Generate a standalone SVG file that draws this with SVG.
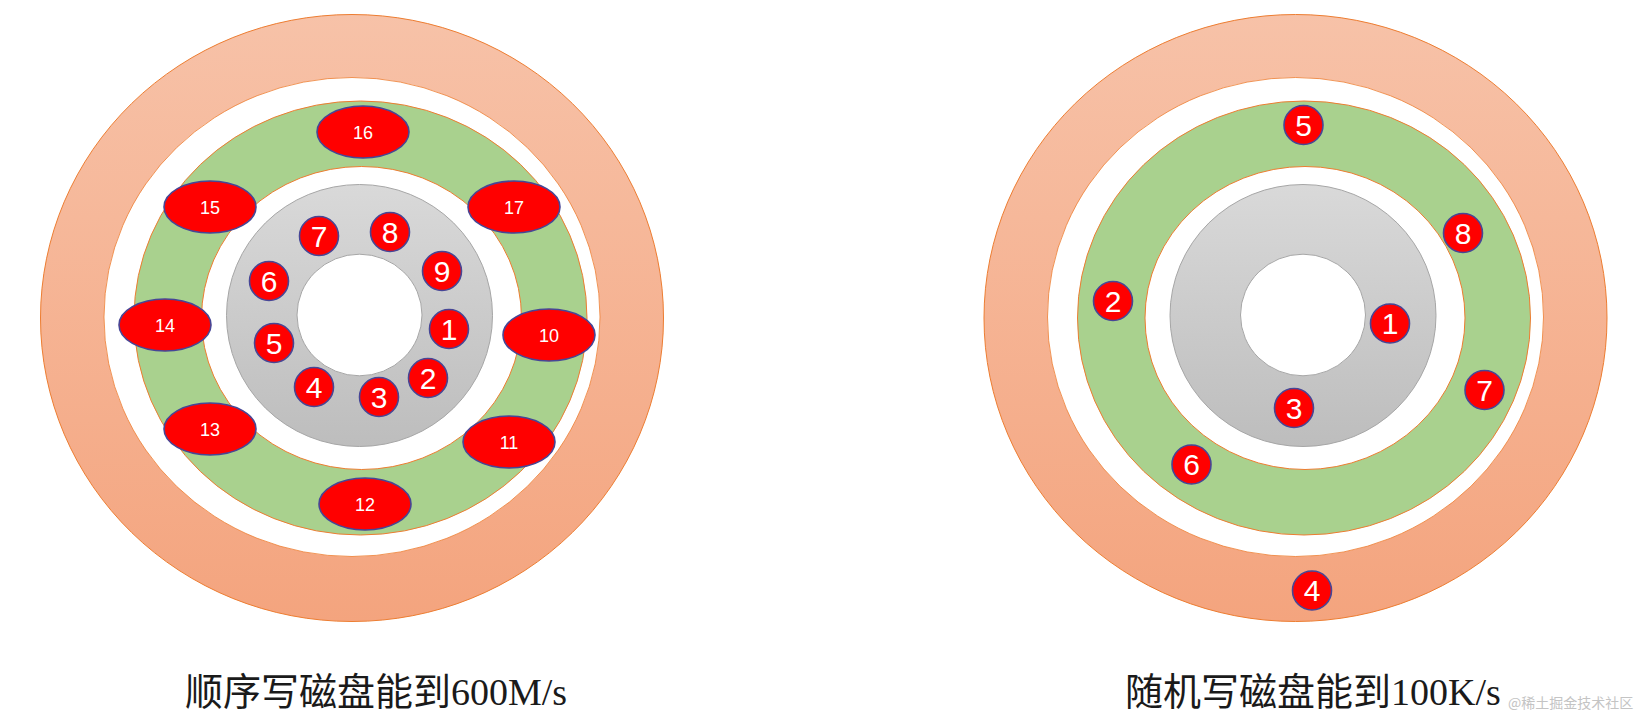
<svg xmlns="http://www.w3.org/2000/svg" xmlns:xlink="http://www.w3.org/1999/xlink" width="1634" height="718" viewBox="0 0 1634 718">
  <defs>
    <linearGradient id="gOrange" x1="0" y1="0" x2="0" y2="1">
      <stop offset="0" stop-color="#f7c2a8"/>
      <stop offset="1" stop-color="#f4a47e"/>
    </linearGradient>
    <linearGradient id="gGray" x1="0" y1="0" x2="0" y2="1">
      <stop offset="0" stop-color="#d9d9d9"/>
      <stop offset="1" stop-color="#bdbdbd"/>
    </linearGradient>
    <g id="disk">
      <ellipse cx="352" cy="318" rx="311.5" ry="303.5" fill="url(#gOrange)" stroke="#ed7d31" stroke-width="1"/>
      <ellipse cx="352" cy="317" rx="248" ry="239.5" fill="#ffffff" stroke="#ed7d31" stroke-width="0.8"/>
      <ellipse cx="360.5" cy="318" rx="226.5" ry="217" fill="#a9d18e" stroke="#ed7d31" stroke-width="1"/>
      <ellipse cx="361.5" cy="318" rx="160" ry="151.5" fill="#ffffff" stroke="#ed7d31" stroke-width="1"/>
      <ellipse cx="359.5" cy="315.5" rx="133" ry="131" fill="url(#gGray)" stroke="#a6a6a6" stroke-width="1"/>
      <ellipse cx="359.5" cy="315" rx="62.5" ry="60.8" fill="#ffffff" stroke="#a6a6a6" stroke-width="1"/>
    </g>
    <style>
      .blob { fill: #ff0000; stroke: #464696; stroke-width: 1.6; }
      .big { font-family: "Liberation Sans", Arial, sans-serif; font-size: 30px; fill: #ffffff; text-anchor: middle; }
      .small { font-family: "Liberation Sans", Arial, sans-serif; font-size: 18px; fill: #ffffff; text-anchor: middle; }
      .title { font-family: "Liberation Serif", "Noto Sans CJK SC", serif; font-size: 38px; fill: #1a1a1a; }
      .wm { font-family: "Noto Sans CJK SC", "Liberation Sans", sans-serif; font-size: 14px; fill: #c4c4c4; }
    </style>
  </defs>

  <rect width="1634" height="718" fill="#ffffff"/>

  <g id="disk-sequential"><use xlink:href="#disk" href="#disk"/></g>
  <g id="disk-random"><use xlink:href="#disk" href="#disk" transform="translate(943.5,0)"/></g>

  <g id="connectors"/>

  <!-- Left disk: sequential -->
  <g id="seq-16"><ellipse class="blob" cx="363" cy="132" rx="46" ry="26"/><text class="small" x="363" y="138.5">16</text></g>
  <g id="seq-15"><ellipse class="blob" cx="210" cy="207" rx="46" ry="26"/><text class="small" x="210" y="213.5">15</text></g>
  <g id="seq-17"><ellipse class="blob" cx="514" cy="207" rx="46" ry="26"/><text class="small" x="514" y="213.5">17</text></g>
  <g id="seq-14"><ellipse class="blob" cx="165" cy="325" rx="46" ry="26"/><text class="small" x="165" y="331.5">14</text></g>
  <g id="seq-10"><ellipse class="blob" cx="549" cy="335" rx="46" ry="26"/><text class="small" x="549" y="341.5">10</text></g>
  <g id="seq-13"><ellipse class="blob" cx="210" cy="429" rx="46" ry="26"/><text class="small" x="210" y="435.5">13</text></g>
  <g id="seq-11"><ellipse class="blob" cx="509" cy="442" rx="46" ry="26"/><text class="small" x="509" y="448.5">11</text></g>
  <g id="seq-12"><ellipse class="blob" cx="365" cy="504" rx="46" ry="26"/><text class="small" x="365" y="510.5">12</text></g>

  <g id="seq-7"><circle class="blob" cx="319" cy="236" r="19.5"/><text class="big" x="319" y="246.5">7</text></g>
  <g id="seq-8"><circle class="blob" cx="390" cy="232" r="19.5"/><text class="big" x="390" y="242.5">8</text></g>
  <g id="seq-9"><circle class="blob" cx="442" cy="271" r="19.5"/><text class="big" x="442" y="281.5">9</text></g>
  <g id="seq-6"><circle class="blob" cx="269" cy="281" r="19.5"/><text class="big" x="269" y="291.5">6</text></g>
  <g id="seq-1"><circle class="blob" cx="449" cy="329" r="19.5"/><text class="big" x="449" y="339.5">1</text></g>
  <g id="seq-5"><circle class="blob" cx="274" cy="343" r="19.5"/><text class="big" x="274" y="353.5">5</text></g>
  <g id="seq-2"><circle class="blob" cx="428" cy="378" r="19.5"/><text class="big" x="428" y="388.5">2</text></g>
  <g id="seq-4"><circle class="blob" cx="314" cy="387" r="19.5"/><text class="big" x="314" y="397.5">4</text></g>
  <g id="seq-3"><circle class="blob" cx="379" cy="397" r="19.5"/><text class="big" x="379" y="407.5">3</text></g>

  <!-- Right disk: random -->
  <g id="rnd-5"><circle class="blob" cx="1303.5" cy="125" r="19.5"/><text class="big" x="1303.5" y="135.5">5</text></g>
  <g id="rnd-8"><circle class="blob" cx="1463" cy="233" r="19.5"/><text class="big" x="1463" y="243.5">8</text></g>
  <g id="rnd-2"><circle class="blob" cx="1113" cy="301" r="19.5"/><text class="big" x="1113" y="311.5">2</text></g>
  <g id="rnd-1"><circle class="blob" cx="1390" cy="323.5" r="19.5"/><text class="big" x="1390" y="334">1</text></g>
  <g id="rnd-7"><circle class="blob" cx="1484.5" cy="390" r="19.5"/><text class="big" x="1484.5" y="400.5">7</text></g>
  <g id="rnd-3"><circle class="blob" cx="1294" cy="408" r="19.5"/><text class="big" x="1294" y="418.5">3</text></g>
  <g id="rnd-6"><circle class="blob" cx="1191.5" cy="464.5" r="19.5"/><text class="big" x="1191.5" y="475">6</text></g>
  <g id="rnd-4"><circle class="blob" cx="1312" cy="590.5" r="19.5"/><text class="big" x="1312" y="601">4</text></g>

  <g id="captions">
    <text class="title" x="185" y="705">顺序写磁盘能到600M/s</text>
    <text class="title" x="1125" y="705">随机写磁盘能到100K/s</text>
    <text class="wm" x="1508" y="708">@稀土掘金技术社区</text>
  </g>
</svg>
